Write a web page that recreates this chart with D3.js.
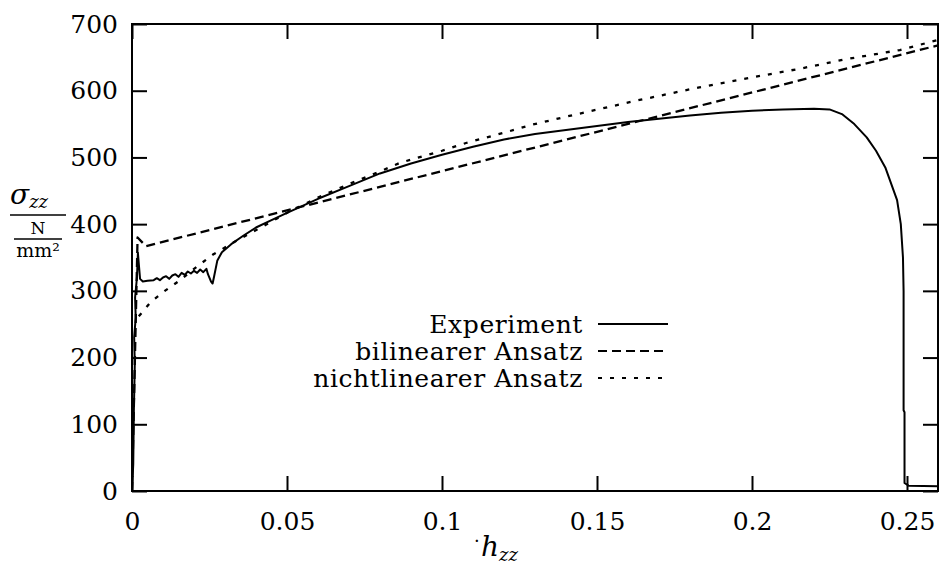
<!DOCTYPE html>
<html>
<head>
<meta charset="utf-8">
<script src="https://cdn.jsdelivr.net/npm/d3@7"></script>
<style>
  body { margin: 0; background: #fff; }
  svg text { font-family: "DejaVu Serif", "Liberation Serif", serif; fill: #000; }
</style>
</head>
<body>
<script>
// tick values
const xTicks = [0, 0.05, 0.1, 0.15, 0.2, 0.25];
const yTicks = [0, 100, 200, 300, 400, 500, 600, 700];

// Experiment (solid)
const expH = [0, 0.0004, 0.0006, 0.0009, 0.0007, 0.0012, 0.0010, 0.0016, 0.0019, 0.0022, 0.0026, 0.0035,
  0.005, 0.007, 0.008, 0.009, 0.010, 0.011, 0.012, 0.013, 0.014, 0.015, 0.016, 0.017, 0.018, 0.019,
  0.020, 0.021, 0.022, 0.023, 0.024, 0.0245, 0.0255, 0.026, 0.0265, 0.0275, 0.029, 0.032, 0.036,
  0.040, 0.045, 0.050, 0.060, 0.070, 0.080, 0.090, 0.100, 0.110, 0.120, 0.130, 0.140, 0.150, 0.160,
  0.170, 0.180, 0.190, 0.200, 0.210, 0.220, 0.225, 0.229, 0.233, 0.237, 0.240, 0.243, 0.2468,
  0.248, 0.2487, 0.2489, 0.2489, 0.2492, 0.2492, 0.2505, 0.26];
const expS = [0, 40, 120, 190, 230, 260, 290, 320, 357, 340, 318, 314,
  315, 316, 319, 316, 320, 322, 318, 323, 325, 321, 327, 324, 329, 326,
  330, 327, 332, 328, 333, 325, 314, 311, 322, 345, 358, 370, 383,
  395, 406, 417, 438, 457, 476, 491, 504, 516, 527, 535, 541, 547, 553,
  558, 563, 567, 570, 572, 573, 572, 565, 550, 530, 510, 485, 436,
  400, 350, 300, 121, 118, 12, 8, 7];

// bilinearer Ansatz (dashed)
const biH = [0, 0.0018, 0.0045, 0.26];
const biS = [0, 380, 367, 668];

// nichtlinearer Ansatz (dotted)
const nlH = [0.0022, 0.006, 0.010, 0.0155, 0.020, 0.026, 0.034, 0.042, 0.050, 0.060, 0.070, 0.080,
  0.0865, 0.100, 0.108, 0.120, 0.129, 0.140, 0.1616, 0.183, 0.200, 0.2155, 0.230, 0.2477, 0.26];
const nlS = [262, 283, 298, 316, 333, 354, 376, 396, 417, 440, 460, 479,
  492, 510, 522, 537, 549, 561, 584, 605, 620, 633, 647, 661, 676];

const legendNames = ["Experiment", "bilinearer Ansatz", "nichtlinearer Ansatz"];
const dashes = [null, "9,5", "4,8"];

const W = 939, H = 571;
const plot = { left: 132, right: 938, top: 24, bottom: 491 };
const serif = "'DejaVu Serif', 'Liberation Serif', serif";

const svg = d3.select("body").append("svg")
  .attr("width", W)
  .attr("height", H);

const x = d3.scaleLinear().domain([0, 0.26]).range([plot.left, plot.right]);
const y = d3.scaleLinear().domain([0, 700]).range([plot.bottom, plot.top]);

const fmtX = d => d === 0 ? "0" : String(d);

// axes with inward ticks
const axB = svg.append("g")
  .attr("transform", `translate(0,${plot.bottom})`)
  .call(d3.axisBottom(x).tickValues(xTicks).tickSizeInner(-15).tickSizeOuter(0).tickPadding(21).tickFormat(fmtX));
const axT = svg.append("g")
  .attr("transform", `translate(0,${plot.top})`)
  .call(d3.axisTop(x).tickValues(xTicks).tickSizeInner(-15).tickSizeOuter(0).tickFormat(""));
const axL = svg.append("g")
  .attr("transform", `translate(${plot.left},0)`)
  .call(d3.axisLeft(y).tickValues(yTicks).tickSizeInner(-15).tickSizeOuter(0).tickPadding(14));
const axR = svg.append("g")
  .attr("transform", `translate(${plot.right},0)`)
  .call(d3.axisRight(y).tickValues(yTicks).tickSizeInner(-15).tickSizeOuter(0).tickFormat(""));

[axB, axT, axL, axR].forEach(g => {
  g.attr("font-family", null).attr("font-size", null);
  g.select(".domain").remove();
  g.selectAll(".tick line").attr("stroke", "#000").attr("stroke-width", 2);
  g.selectAll(".tick text")
    .attr("font-family", serif)
    .attr("font-size", 25)
    .attr("fill", "#000");
});

// frame
svg.append("rect")
  .attr("x", plot.left).attr("y", plot.top)
  .attr("width", plot.right - plot.left).attr("height", plot.bottom - plot.top)
  .attr("fill", "none").attr("stroke", "#000").attr("stroke-width", 2);

const line = d3.line().x(d => x(d[0])).y(d => y(d[1]));

const series = [
  d3.zip(expH, expS),
  d3.zip(biH, biS),
  d3.zip(nlH, nlS)
];

svg.append("clipPath").attr("id", "clip")
  .append("rect").attr("x", plot.left).attr("y", plot.top - 5)
  .attr("width", plot.right - plot.left + 2).attr("height", plot.bottom - plot.top + 5);

svg.append("g").attr("clip-path", "url(#clip)")
  .selectAll("path")
  .data(series)
  .join("path")
  .attr("d", line)
  .attr("fill", "none")
  .attr("stroke", "#000")
  .attr("stroke-width", (d, i) => i === 0 ? 2 : 2.3)
  .attr("stroke-linejoin", "round")
  .attr("stroke-dasharray", (d, i) => dashes[i]);

// legend
const lg = svg.append("g");
legendNames.forEach((name, i) => {
  const cy = 324 + i * 27;
  lg.append("text")
    .attr("x", 583).attr("y", cy)
    .attr("dy", "0.35em")
    .attr("text-anchor", "end")
    .attr("font-family", serif)
    .attr("font-size", 25)
    .attr("letter-spacing", 0.6)
    .text(name);
  lg.append("line")
    .attr("x1", 598).attr("x2", 668)
    .attr("y1", cy).attr("y2", cy)
    .attr("stroke", "#000").attr("stroke-width", 2)
    .attr("stroke-dasharray", dashes[i]);
});

// y label: sigma_zz over N/mm^2
const yl = svg.append("g").attr("font-family", serif);
yl.append("text").attr("x", 10).attr("y", 204)
  .attr("font-size", 28).attr("font-style", "italic")
  .text("σ")
  .append("tspan").attr("dy", 4).attr("font-size", 18).text("zz");
yl.append("line").attr("x1", 10).attr("x2", 66).attr("y1", 215).attr("y2", 215)
  .attr("stroke", "#000").attr("stroke-width", 1.6);
yl.append("text").attr("x", 38).attr("y", 234).attr("text-anchor", "middle")
  .attr("font-size", 17).text("N");
yl.append("line").attr("x1", 14).attr("x2", 62).attr("y1", 239).attr("y2", 239)
  .attr("stroke", "#000").attr("stroke-width", 1.3);
yl.append("text").attr("x", 38).attr("y", 257).attr("text-anchor", "middle")
  .attr("font-size", 19)
  .text("mm²");

// x label
svg.append("text").attr("x", 474).attr("y", 547)
  .attr("font-family", serif).attr("font-size", 18).text("·");
svg.append("text").attr("x", 481).attr("y", 556)
  .attr("font-family", serif).attr("font-size", 28).attr("font-style", "italic")
  .text("h")
  .append("tspan").attr("dy", 5).attr("font-size", 18).text("zz");
</script>
</body>
</html>
